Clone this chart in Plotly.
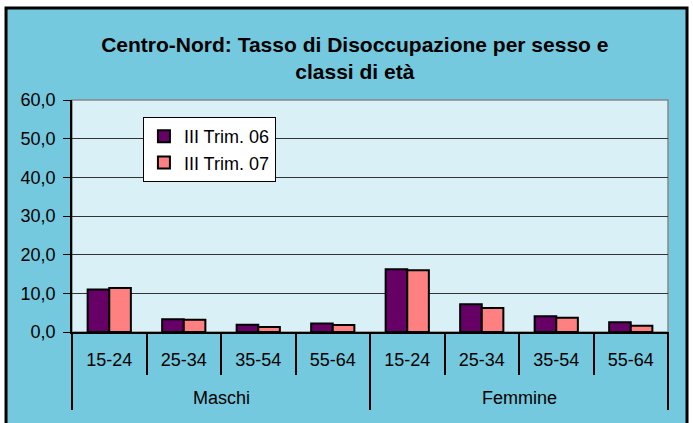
import plotly.graph_objects as go

# Data: unemployment rate (%) by sex and age class, Centre-North
groups = ["Maschi", "Femmine"]
age_classes = ["15-24", "25-34", "35-54", "55-64"]
trim06 = [11.0, 3.3, 1.9, 2.2, 16.2, 7.2, 4.1, 2.5]
trim07 = [11.4, 3.2, 1.3, 1.8, 16.0, 6.2, 3.7, 1.6]
y_ticks = [0, 10, 20, 30, 40, 50, 60]

# one unique category key per (sex, age class); tick text shows the age class
cat_keys = [f"{g} {a}" for g in groups for a in age_classes]
cat_text = [a for g in groups for a in age_classes]
n_cat = len(cat_keys)

FONT = "Liberation Sans, Arial, sans-serif"
OUTER_BG = "#74C9DE"
PLOT_BG = "#DAF0F7"

fig = go.Figure()
fig.add_trace(go.Bar(
    x=cat_keys, y=trim06, name="III Trim. 06",
    marker=dict(color="#660066", line=dict(color="black", width=2)),
))
fig.add_trace(go.Bar(
    x=cat_keys, y=trim07, name="III Trim. 07",
    marker=dict(color="#FF8080", line=dict(color="black", width=2)),
))

# chart frame and plot area background
fig.add_shape(type="rect", xref="paper", yref="paper",
              x0=-0.1107, x1=1.0319, y0=-0.45, y1=1.3966,
              fillcolor=OUTER_BG, line=dict(color="black", width=3), layer="below")
fig.add_shape(type="rect", xref="paper", yref="paper",
              x0=0, x1=1, y0=0, y1=1,
              fillcolor=PLOT_BG, line=dict(color="#888888", width=1.5), layer="below")

# second level of the category axis: sex labels and group dividers
per_group = len(age_classes)
for gi, g in enumerate(groups):
    fig.add_annotation(
        x=gi * per_group + (per_group - 1) / 2, xref="x",
        y=-0.284, yref="paper", yanchor="middle",
        text=g, showarrow=False,
        font=dict(family=FONT, size=18, color="black"),
    )
for b in range(0, n_cat + 1, per_group):
    fig.add_shape(type="line", xref="paper", yref="paper",
                  x0=b / n_cat, x1=b / n_cat, y0=0, y1=-0.336,
                  line=dict(color="black", width=2))

fig.update_layout(
    width=693, height=423,
    margin=dict(l=72, r=25, t=100, b=91),
    paper_bgcolor="white",
    plot_bgcolor="rgba(0,0,0,0)",
    separators=",.",
    font=dict(family=FONT, size=18, color="black"),
    title=dict(
        text="Centro-Nord: Tasso di Disoccupazione per sesso e<br>classi di età",
        font=dict(family=FONT, size=21, color="black", weight="bold"),
        x=0.512, xanchor="center", xref="container",
        y=0.878, yanchor="top", yref="container",
    ),
    barmode="group",
    bargap=0.42,
    bargroupgap=0,
    showlegend=True,
    legend=dict(
        x=0.119, y=0.927, xanchor="left", yanchor="top",
        bgcolor="white", bordercolor="black", borderwidth=1,
        font=dict(family=FONT, size=18, color="black"),
        itemwidth=30, tracegroupgap=0,
    ),
    xaxis=dict(
        type="category",
        tickvals=cat_keys, ticktext=cat_text,
        tickson="boundaries",
        showline=True, linecolor="black", linewidth=2,
        ticks="outside", ticklen=41, tickcolor="black", tickwidth=2,
        ticklabelstandoff=10,
        tickfont=dict(family=FONT, size=18, color="black"),
        showgrid=False,
    ),
    yaxis=dict(
        range=[0, 60], tickvals=y_ticks, tickformat=".1f",
        showline=True, linecolor="black", linewidth=1.5,
        ticks="outside", ticklen=7, tickcolor="black",
        ticklabelstandoff=4,
        showgrid=True, gridcolor="#333333", gridwidth=1,
        zeroline=False,
        tickfont=dict(family=FONT, size=18, color="black"),
    ),
)

fig.write_html("out.html")
